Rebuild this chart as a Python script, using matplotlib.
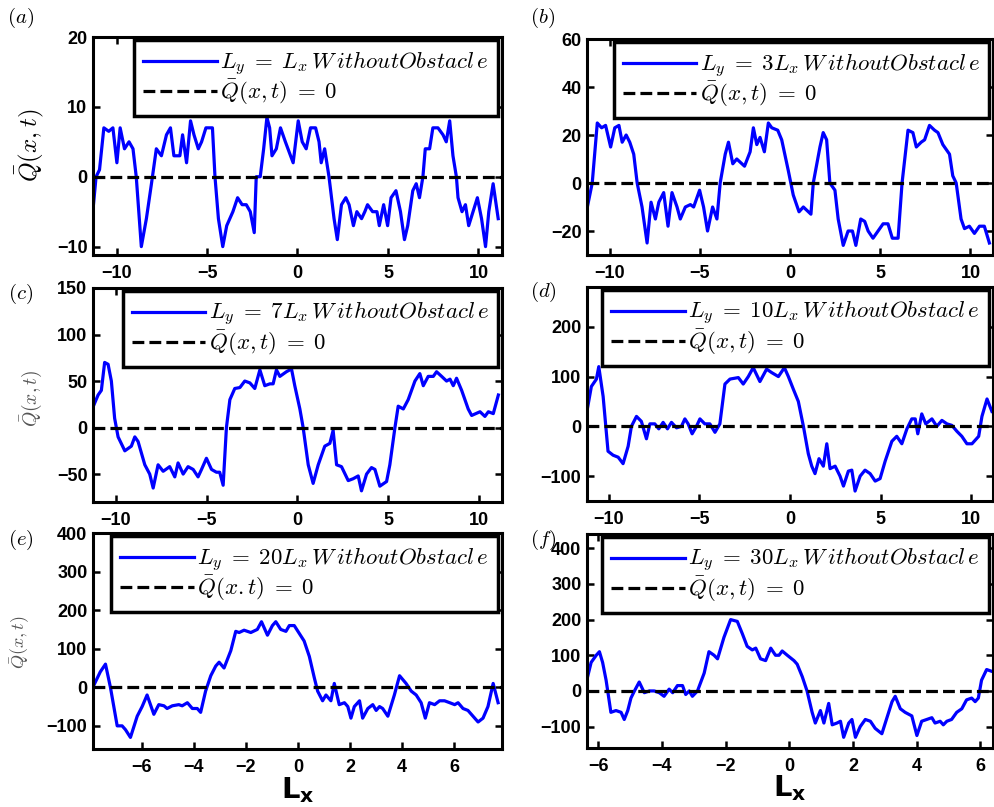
import matplotlib
matplotlib.use("Agg")
import matplotlib.pyplot as plt

plt.rcParams['mathtext.fontset'] = 'cm'
plt.rcParams['font.family'] = ['Liberation Sans', 'DejaVu Sans']

# panel (a): Ly = Lx
xa = [-11.31, -11.13, -10.94, -10.70, -10.43, -10.20, -9.98, -9.80, -9.56, -9.31,
      -9.09, -8.91, -8.63, -8.35, -8.07, -7.80, -7.52, -7.24, -7.02, -6.83,
      -6.50, -6.35, -6.13, -5.91, -5.72, -5.48, -5.30, -5.06, -4.70, -4.56,
      -4.37, -4.13, -3.91, -3.57, -3.31, -3.06, -2.83, -2.61, -2.39, -2.28,
      -2.06, -1.87, -1.69, -1.54, -1.41, -1.17, -0.94, -0.67, -0.24, 0.04,
      0.26, 0.48, 0.72, 1.00, 1.19, 1.31, 1.50, 1.74, 2.02, 2.20,
      2.43, 2.67, 2.85, 3.09, 3.28, 3.54, 3.72, 3.87, 4.15, 4.39,
      4.52, 4.76, 4.98, 5.17, 5.44, 5.69, 5.91, 6.09, 6.37, 6.56,
      6.74, 6.93, 7.06, 7.30, 7.48, 7.76, 8.04, 8.22, 8.41, 8.59,
      8.78, 8.87, 9.09, 9.28, 9.46, 9.70, 9.94, 10.17, 10.39, 10.57,
      10.81, 11.09]
qa = [-5, 0, 1, 7, 6.5, 7, 2, 7, 4, 5,
      4, 0, -10, -6, -1, 4, 3, 6, 7, 3,
      3, 6, 2, 8, 6, 4, 5, 7, 7, 0,
      -6, -10, -7, -5, -3, -4, -4, -5, -8, 0,
      0, 4, 8.5, 7, 3, 4, 7, 5, 2, 8,
      5, 4, 7, 7, 5, 2, 4, 0, -6, -9,
      -4, -3, -4, -7, -5, -6, -5, -4, -5, -5,
      -7, -4, -7, -3, -2, -5, -9, -7, -2, -1,
      -3, 0, 4, 4, 7, 7, 6, 5, 8, 3,
      0, -3, -5, -4, -7, -5, -3, -6, -10, -5,
      -1, -6]

# panel (b): Ly = 3Lx
xb = [-11.23, -10.96, -10.68, -10.44, -10.22, -9.94, -9.71, -9.48, -9.30, -9.08,
      -8.88, -8.66, -8.47, -8.20, -7.92, -7.70, -7.46, -7.27, -7.00, -6.76,
      -6.54, -6.26, -6.08, -5.80, -5.52, -5.34, -5.01, -4.79, -4.57, -4.29,
      -4.05, -3.87, -3.59, -3.41, -3.17, -2.95, -2.52, -2.21, -2.03, -1.84,
      -1.66, -1.42, -1.20, -1.01, -0.68, -0.46, -0.09, 0.18, 0.50, 0.74,
      1.16, 1.29, 1.66, 1.84, 2.03, 2.21, 2.49, 2.67, 2.95, 3.22,
      3.46, 3.65, 3.92, 4.14, 4.33, 4.60, 4.88, 5.16, 5.43, 5.67,
      5.99, 6.21, 6.54, 6.81, 7.00, 7.27, 7.46, 7.73, 8.01, 8.20,
      8.47, 8.84, 9.02, 9.21, 9.48, 9.67, 9.94, 10.22, 10.50, 10.77,
      11.05]
qb = [-10, 0, 25, 23, 24, 15, 23, 24, 17, 20,
      17, 12, 0, -10, -25, -8, -15, -8, -4, -18,
      -4, -10, -15, -10, -9, -10, -3, -10, -20, -10,
      -15, 0, 12, 17, 8, 10, 7, 13, 23, 16,
      19, 13, 25, 23, 22, 18, 5, -5, -12, -10,
      -13, 0, 15, 21, 18, 0, -3, -15, -26, -20,
      -20, -26, -15, -16, -20, -23, -20, -17, -17, -23,
      -23, 0, 22, 21, 15, 17, 18, 24, 22, 21,
      16, 12, 3, 0, -15, -19, -18, -21, -18, -18,
      -25]

# panel (c): Ly = 7Lx
xc = [-11.25, -10.97, -10.79, -10.61, -10.42, -10.24, -10.06, -9.87, -9.50, -9.14,
      -8.95, -8.77, -8.40, -8.13, -7.94, -7.67, -7.39, -7.03, -6.75, -6.57,
      -6.29, -6.02, -5.74, -5.47, -5.28, -5.01, -4.73, -4.46, -4.28, -4.09,
      -3.91, -3.72, -3.45, -3.17, -2.90, -2.62, -2.35, -2.07, -1.80, -1.52,
      -1.34, -1.16, -0.97, -0.61, -0.33, -0.15, 0.13, 0.31, 0.59, 0.86,
      1.14, 1.50, 1.78, 1.96, 2.15, 2.42, 2.79, 3.06, 3.34, 3.52,
      3.80, 4.07, 4.26, 4.53, 4.90, 5.08, 5.36, 5.54, 5.82, 6.09,
      6.46, 6.73, 6.92, 7.19, 7.47, 7.65, 7.93, 8.20, 8.39, 8.57,
      8.75, 9.03, 9.39, 9.58, 10.04, 10.31, 10.50, 10.77, 11.05]
qc = [22, 35, 40, 70, 68, 50, 10, -10, -25, -20,
      -10, -15, -40, -50, -65, -40, -47, -42, -53, -38,
      -50, -42, -45, -53, -45, -33, -45, -48, -48, -62,
      0, 30, 42, 43, 50, 48, 42, 62, 45, 47,
      47, 62, 55, 60, 63, 45, 20, 0, -40, -60,
      -40, -20, -17, -3, -40, -42, -57, -55, -52, -68,
      -50, -43, -45, -63, -58, -40, 0, 23, 20, 30,
      50, 58, 45, 55, 55, 60, 55, 50, 52, 45,
      53, 40, 20, 13, 17, 12, 17, 15, 35]

# panel (d): Ly = 10Lx
xd = [-11.18, -10.96, -10.68, -10.55, -10.31, -10.04, -9.76, -9.48, -9.21, -8.93,
      -8.75, -8.47, -8.20, -7.92, -7.73, -7.46, -7.24, -7.00, -6.76, -6.54,
      -6.26, -5.99, -5.80, -5.62, -5.40, -5.16, -4.97, -4.70, -4.42, -4.14,
      -3.87, -3.59, -3.31, -2.85, -2.58, -2.30, -2.03, -1.66, -1.29, -1.01,
      -0.64, -0.31, -0.09, 0.18, 0.46, 0.74, 1.01, 1.20, 1.38, 1.60,
      1.84, 2.03, 2.21, 2.49, 2.76, 2.95, 3.22, 3.41, 3.59, 3.87,
      4.14, 4.42, 4.70, 4.97, 5.25, 5.62, 5.89, 6.17, 6.45, 6.72,
      6.91, 7.05, 7.27, 7.49, 7.83, 8.10, 8.38, 8.66, 8.93, 9.21,
      9.48, 9.76, 10.04, 10.41, 10.59, 10.87, 11.14]
qd = [35, 80, 95, 120, 60, -50, -58, -62, -75, -40,
      0, 20, 10, -25, 5, 5, -5, 8, -5, 8,
      -3, 0, 15, 5, -15, 0, 15, 5, 5, -12,
      5, 85, 95, 98, 85, 100, 118, 90, 115, 108,
      100, 118, 100, 75, 50, 0, -55, -80, -95, -65,
      -80, -35, -85, -80, -100, -120, -90, -88, -130, -100,
      -88, -95, -110, -105, -70, -30, -20, -35, -5, 15,
      15, -15, 25, 5, 15, 0, 12, 5, 2, -10,
      -20, -35, -35, -20, 20, 55, 30]

# panel (e): Ly = 20Lx
xe = [-7.85, -7.60, -7.40, -7.21, -6.95, -6.76, -6.63, -6.44, -6.18, -5.99,
      -5.80, -5.54, -5.35, -5.15, -5.03, -4.83, -4.58, -4.45, -4.25, -4.06,
      -3.87, -3.74, -3.55, -3.35, -3.16, -3.03, -2.84, -2.58, -2.39, -2.26,
      -2.07, -1.81, -1.56, -1.40, -1.17, -0.98, -0.85, -0.66, -0.46, -0.33,
      -0.14, 0.05, 0.24, 0.44, 0.63, 0.76, 0.95, 1.08, 1.27, 1.40,
      1.59, 1.79, 1.92, 2.04, 2.17, 2.37, 2.49, 2.69, 2.88, 3.01,
      3.14, 3.26, 3.46, 3.71, 3.91, 4.16, 4.36, 4.55, 4.74, 4.90,
      5.06, 5.26, 5.45, 5.64, 5.84, 6.03, 6.16, 6.35, 6.54, 6.80,
      6.93, 7.12, 7.31, 7.51, 7.70]
qe = [5, 40, 60, 0, -100, -100, -110, -130, -75, -50,
      -20, -70, -45, -48, -55, -48, -45, -48, -40, -55,
      -55, -65, -10, 30, 55, 65, 50, 95, 145, 142,
      148, 142, 150, 170, 135, 160, 170, 150, 145, 160,
      160, 140, 120, 80, 25, -10, -35, -20, -35, 10,
      -45, -40, -50, -80, -50, -35, -80, -55, -45, -60,
      -50, -55, -75, -20, 30, 10, -10, -20, -40, -80,
      -40, -45, -35, -35, -40, -45, -40, -55, -60, -80,
      -90, -80, -50, 10, -40]

# panel (f): Ly = 30Lx
xf = [-6.33, -6.22, -6.06, -5.96, -5.86, -5.75, -5.60, -5.44, -5.28, -5.18,
      -5.07, -4.97, -4.86, -4.71, -4.55, -4.39, -4.24, -4.08, -3.93, -3.77,
      -3.66, -3.51, -3.35, -3.25, -3.14, -3.04, -2.88, -2.67, -2.52, -2.36,
      -2.25, -2.05, -1.84, -1.63, -1.47, -1.32, -1.16, -1.05, -0.90, -0.74,
      -0.58, -0.43, -0.32, -0.22, -0.06, 0.15, 0.25, 0.41, 0.56, 0.72,
      0.82, 0.98, 1.09, 1.24, 1.35, 1.50, 1.61, 1.71, 1.87, 1.97,
      2.08, 2.23, 2.39, 2.55, 2.70, 2.91, 3.07, 3.23, 3.33, 3.49,
      3.64, 3.85, 4.01, 4.16, 4.32, 4.48, 4.58, 4.74, 4.84, 4.95,
      5.10, 5.26, 5.42, 5.57, 5.73, 5.84, 5.94, 6.04, 6.20, 6.36]
qf = [40, 80, 100, 110, 80, 30, -60, -55, -60, -80,
      -55, -20, 0, 25, -5, 0, 0, -5, -15, 5,
      -5, 15, 15, -10, 0, -15, 0, 50, 110, 100,
      90, 150, 200, 195, 160, 125, 115, 120, 90, 85,
      120, 100, 100, 112, 100, 85, 75, 40, 0, -60,
      -90, -55, -90, -35, -95, -90, -85, -130, -90, -80,
      -130, -100, -80, -85, -105, -120, -75, -30, -15, -50,
      -60, -70, -125, -85, -80, -75, -90, -85, -95, -85,
      -80, -60, -50, -25, -20, -30, -20, 30, 60, 55]

ly_factors = ['', '3', '7', '10', '20', '30']
labels = [r'$L_y\;=\;%sL_x\,W\,ithoutObstacl\,e$' % f for f in ly_factors]
zero_labels = [r'$\bar{Q}(x,t)\;=\;0$'] * 4 + [r'$\bar{Q}(x.t)\;=\;0$', r'$\bar{Q}(x,t)\;=\;0$']
letters = ['a', 'b', 'c', 'd', 'e', 'f']

xticks_wide = [-10, -5, 0, 5, 10]
xticks_narrow = [-6, -4, -2, 0, 2, 4, 6]

W, H = 995.0, 807.0
fig = plt.figure(figsize=(9.95, 8.07), dpi=100)


def px_axes(left, top, right, bottom):
    return fig.add_axes([left / W, 1 - bottom / H, (right - left) / W, (bottom - top) / H])


panels = [
    (xa, qa, (93, 37, 502, 255), (-11.3, 11.3), (-11.2, 20), xticks_wide, [-10, 0, 10, 20]),
    (xb, qb, (587, 39, 993, 255), (-11.25, 11.25), (-30, 60), xticks_wide, [-20, 0, 20, 40, 60]),
    (xc, qc, (93, 288, 502, 502), (-11.25, 11.25), (-80, 150), xticks_wide, [-50, 0, 50, 100, 150]),
    (xd, qd, (587, 287, 993, 501), (-11.2, 11.2), (-150, 280), xticks_wide, [-100, 0, 100, 200]),
    (xe, qe, (93, 533, 502, 749), (-7.88, 7.85), (-160, 400), xticks_narrow, [-100, 0, 100, 200, 300, 400]),
    (xf, qf, (587, 534, 993, 748), (-6.35, 6.4), (-160, 440), xticks_narrow, [-100, 0, 100, 200, 300, 400]),
]

axes = []
for i, (x, q, box, xl, yl, xt, yt) in enumerate(panels):
    ax = px_axes(*box)
    ax.plot(x, q, color='#0000ff', lw=2.3, label=labels[i])
    ax.axhline(0, color='black', lw=2.3, ls='--', label=zero_labels[i])
    ax.set_xlim(*xl)
    ax.set_ylim(*yl)
    ax.set_xticks(xt)
    ax.set_yticks(yt)
    ax.tick_params(direction='in', length=5, width=1.8, top=True, right=True,
                   labelsize=13)
    ax.tick_params(axis='y', pad=4)
    ax.tick_params(axis='x', pad=7)
    for lab in ax.get_xticklabels() + ax.get_yticklabels():
        lab.set_fontweight('bold')
    for s in ax.spines.values():
        s.set_linewidth(2.2)
    leg = ax.legend(loc='upper right', bbox_to_anchor=(0.99, 0.985), borderaxespad=0,
                    fontsize=16.5, handlelength=3.2, handletextpad=0.15,
                    labelspacing=0.0, borderpad=0.4, fancybox=False,
                    framealpha=1, edgecolor='black')
    leg.get_frame().set_linewidth(2.5)
    axes.append(ax)

# panel letters
letter_pos = [(21, 18), (543, 18), (21, 294), (543, 292), (21, 540), (543, 540)]
for (px, py), l in zip(letter_pos, letters):
    fig.text(px / W, 1 - py / H, r'$(%s)$' % l, fontsize=15, ha='center', va='center')

# y labels on the left column
fig.text(30 / W, 1 - 145 / H, r'$\bar{Q}(x,t)$', fontsize=18, rotation=90,
         ha='center', va='center')
fig.text(31 / W, 1 - 398 / H, r'$\bar{Q}(x,t)$', fontsize=14, rotation=90,
         ha='center', va='center', color='#555555')
fig.text(20 / W, 1 - 642 / H, r'$\bar{Q}(x,t)$', fontsize=13, rotation=90,
         ha='center', va='center', color='#555555')

# x labels under the bottom row
for ax in axes[4:]:
    ax.set_xlabel(r'$\mathbf{L_x}$', fontsize=21, math_fontfamily='dejavusans')
    ax.xaxis.set_label_coords(0.5, -0.12)

fig.savefig('out.png', dpi=100)
